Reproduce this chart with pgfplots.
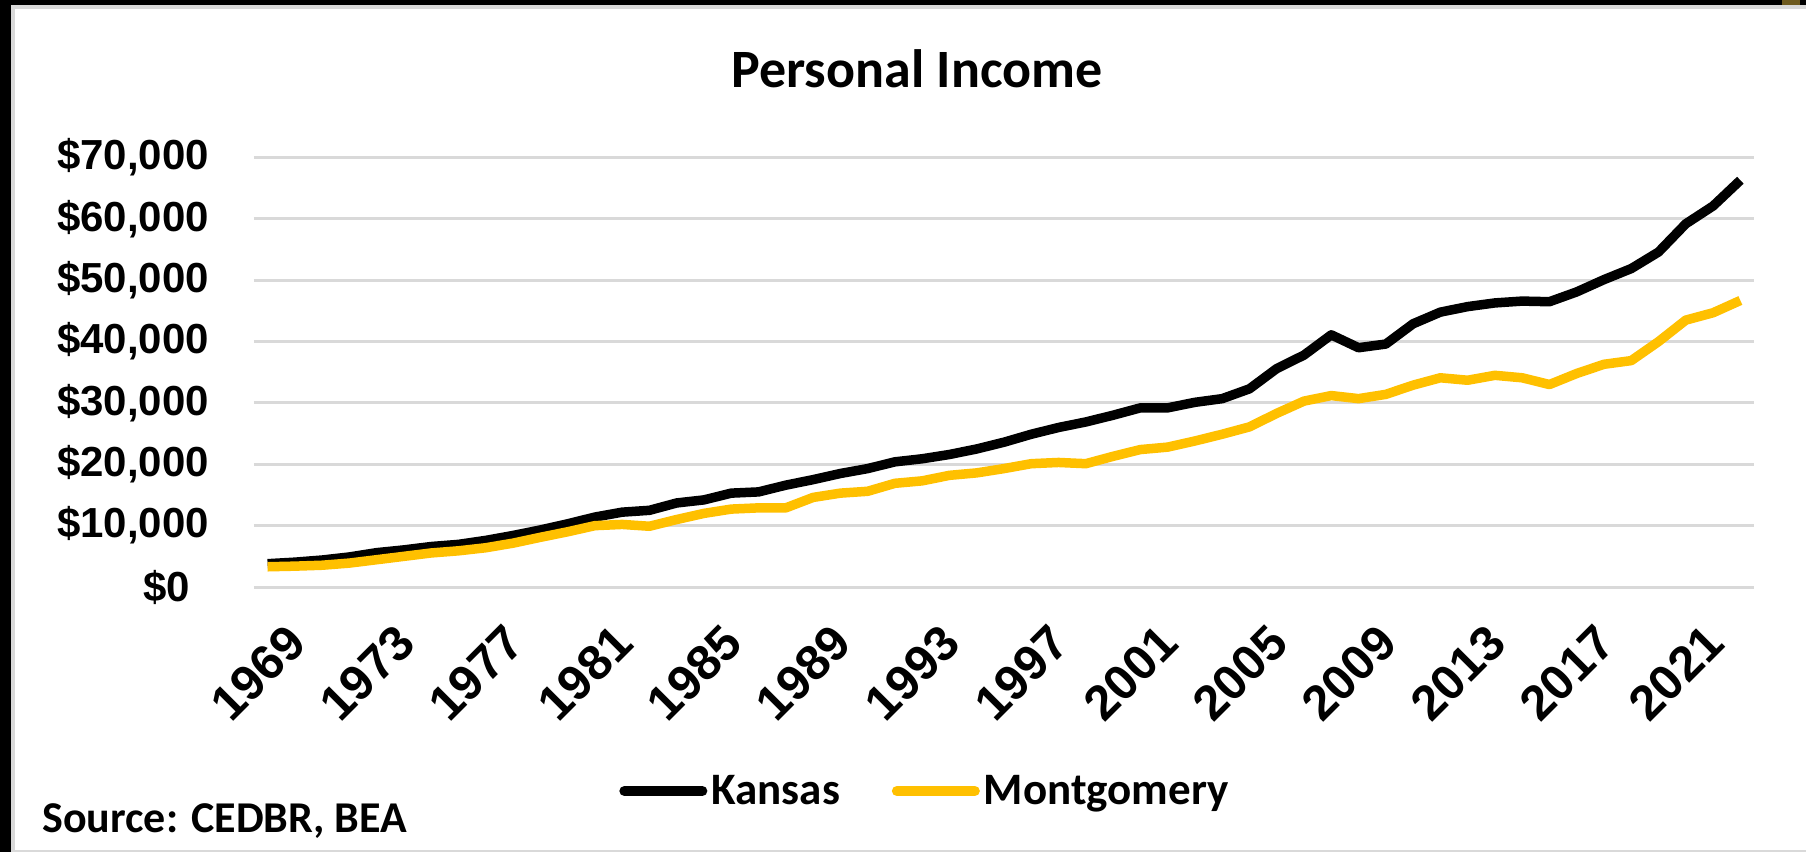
\documentclass[border=0pt]{standalone}
\usepackage{pgfplots}
\pgfplotsset{compat=1.18}
\usepackage{pgfplotstable}
\usepackage{fontspec}
\setmainfont{Liberation Sans}
\newfontfamily\cfont{Carlito}
\definecolor{gold}{RGB}{255,192,0}
\definecolor{gridgray}{RGB}{217,217,217}
\definecolor{patch}{RGB}{110,90,30}

\pgfplotstableread{
year kansas montgomery
1969 3800 3300
1970 4050 3400
1971 4400 3550
1972 4900 3900
1973 5600 4450
1974 6050 5000
1975 6600 5550
1976 6950 5900
1977 7600 6400
1978 8400 7150
1979 9300 8100
1980 10300 9000
1981 11400 10000
1982 12200 10200
1983 12500 9900
1984 13700 11000
1985 14200 12000
1986 15300 12700
1987 15500 12900
1988 16600 12900
1989 17500 14600
1990 18500 15300
1991 19300 15600
1992 20400 16900
1993 20900 17300
1994 21600 18200
1995 22500 18600
1996 23600 19300
1997 24900 20100
1998 26000 20300
1999 26900 20100
2000 28000 21300
2001 29200 22400
2002 29200 22800
2003 30100 23800
2004 30700 24900
2005 32300 26100
2006 35600 28300
2007 37800 30300
2008 41100 31200
2009 39000 30700
2010 39600 31400
2011 42900 32900
2012 44800 34100
2013 45700 33700
2014 46300 34500
2015 46600 34100
2016 46500 33000
2017 48100 34800
2018 50100 36300
2019 51900 36900
2020 54600 40000
2021 59200 43500
2022 62100 44700
2023 66300 46700
}\data

\begin{document}
\begin{tikzpicture}
\useasboundingbox (0,0) rectangle (903pt,-426pt);
\fill[black] (0,0) rectangle (903pt,-426pt);
\fill[gridgray] (5.5pt,-2.5pt) rectangle (903pt,-426pt);
\fill[white] (7.5pt,-4.5pt) rectangle (903pt,-425pt);
\fill[patch] (891pt,0pt) rectangle (900pt,-2.5pt);
\begin{axis}[
  at={(127pt,-293.5pt)}, anchor=south west,
  scale only axis, width=750pt, height=214.75pt,
  xmin=1968.5, xmax=2023.5, ymin=0, ymax=70000,
  axis line style={draw=none}, major tick length=0pt,
  xtick={1969,1973,1977,1981,1985,1989,1993,1997,2001,2005,2009,2013,2017,2021},
  xticklabels={1969,1973,1977,1981,1985,1989,1993,1997,2001,2005,2009,2013,2017,2021},
  ytick={0,10000,20000,30000,40000,50000,60000,70000},
  yticklabels={{\$0\hspace*{9.5pt}},{\$10,000},{\$20,000},{\$30,000},{\$40,000},{\$50,000},{\$60,000},{\$70,000}},
  scaled y ticks=false, scaled x ticks=false,
  ymajorgrids, grid style={gridgray, line width=1.5pt},
  yticklabel style={font=\bfseries\fontsize{21}{25}\selectfont, xshift=-19pt},
  xticklabel style={font=\bfseries\fontsize{24.5}{28}\selectfont, rotate=45, anchor=east, yshift=-27pt, xshift=-3pt},
  clip=false,
  legend columns=2,
  legend cell align=left,
  legend style={at={(0.2433,-0.475)}, anchor=west, draw=none, fill=none, inner sep=0pt,
    nodes={inner sep=2pt},
    font=\cfont\bfseries\fontsize{22.5}{27}\selectfont,
    /tikz/every even column/.append style={column sep=24pt}},
  legend image code/.code={\draw[#1, line width=5pt, line cap=round] (0pt,0pt) -- (39pt,0pt);},
]
\addplot[black, line width=4.75pt, line join=round] table[x=year,y=kansas]{\data};
\addlegendentry{Kansas}
\addplot[gold, line width=4.75pt, line join=round] table[x=year,y=montgomery]{\data};
\addlegendentry{Montgomery}
\end{axis}
\node[anchor=base, inner sep=0pt, font=\cfont\bfseries\fontsize{27}{32}\selectfont] at (458.5pt,-43.5pt) {Personal Income};
\node[anchor=base west, inner sep=0pt, font=\cfont\bfseries\fontsize{22}{26}\selectfont] at (21pt,-416pt) {Source: CEDBR, BEA};
\end{tikzpicture}
\end{document}
